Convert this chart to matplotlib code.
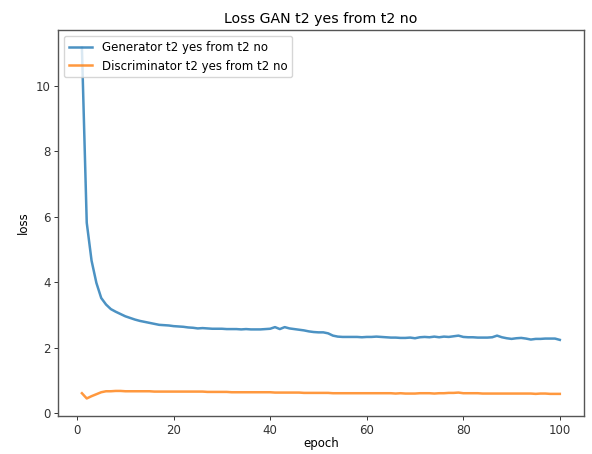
import matplotlib as mpl
mpl.use('Agg')
import matplotlib.pyplot as plt
import numpy as np

# epochs 1..100
epochs = np.arange(1, 101)

gen_loss = [11.17, 5.82, 4.66, 3.98, 3.52, 3.32, 3.18, 3.10, 3.03, 2.96,
            2.91, 2.86, 2.82, 2.79, 2.76, 2.73, 2.70, 2.69, 2.68, 2.66,
            2.65, 2.64, 2.62, 2.61, 2.59, 2.60, 2.59, 2.58, 2.58, 2.58,
            2.57, 2.57, 2.57, 2.56, 2.57, 2.56, 2.56, 2.56, 2.57, 2.58,
            2.63, 2.57, 2.63, 2.59, 2.57, 2.55, 2.53, 2.50, 2.48, 2.47,
            2.47, 2.44, 2.37, 2.34, 2.33, 2.33, 2.33, 2.33, 2.32, 2.33,
            2.33, 2.34, 2.33, 2.32, 2.31, 2.31, 2.30, 2.30, 2.31, 2.29,
            2.32, 2.33, 2.32, 2.34, 2.32, 2.34, 2.33, 2.35, 2.37, 2.33,
            2.32, 2.32, 2.31, 2.31, 2.31, 2.32, 2.37, 2.32, 2.29, 2.27,
            2.29, 2.30, 2.28, 2.25, 2.27, 2.27, 2.28, 2.28, 2.28, 2.24]

disc_loss = [0.61, 0.45, 0.52, 0.58, 0.64, 0.67, 0.67, 0.68, 0.68, 0.67,
             0.67, 0.67, 0.67, 0.67, 0.67, 0.66, 0.66, 0.66, 0.66, 0.66,
             0.66, 0.66, 0.66, 0.66, 0.66, 0.66, 0.65, 0.65, 0.65, 0.65,
             0.65, 0.64, 0.64, 0.64, 0.64, 0.64, 0.64, 0.64, 0.64, 0.64,
             0.63, 0.63, 0.63, 0.63, 0.63, 0.63, 0.62, 0.62, 0.62, 0.62,
             0.62, 0.62, 0.61, 0.61, 0.61, 0.61, 0.61, 0.61, 0.61, 0.61,
             0.61, 0.61, 0.61, 0.61, 0.61, 0.60, 0.61, 0.60, 0.60, 0.60,
             0.61, 0.61, 0.61, 0.60, 0.61, 0.61, 0.62, 0.62, 0.63, 0.61,
             0.61, 0.61, 0.61, 0.60, 0.60, 0.60, 0.60, 0.60, 0.60, 0.60,
             0.60, 0.60, 0.60, 0.60, 0.59, 0.60, 0.60, 0.59, 0.59, 0.59]

# 原图大约按 82 dpi 渲染，这里用 100 dpi，所以字号和线宽都缩放
s = 0.85
mpl.rcParams['font.size'] = 10 * s
mpl.rcParams['font.family'] = ['DejaVu Sans']

fig = plt.figure(figsize=(5.92, 4.54), dpi=100)
ax = fig.add_axes([0.098, 0.0837, 0.888, 0.850])

ax.plot(epochs, gen_loss, lw=1.8, c='#1f77b4', alpha=0.8,
        label='Generator t2 yes from t2 no')
ax.plot(epochs, disc_loss, lw=1.8, c='#ff7f0e', alpha=0.8,
        label='Discriminator t2 yes from t2 no')

ax.set_title('Loss GAN t2 yes from t2 no', fontsize=12 * s, pad=5)
ax.set_xlabel('epoch', fontsize=10 * s, labelpad=0)
ax.set_ylabel('loss', fontsize=10 * s)
ax.set_xticks(range(0, 101, 20))
ax.set_yticks(range(0, 11, 2))
for sp in ax.spines.values():
    sp.set_linewidth(1.0)
    sp.set_color('#555555')
ax.tick_params(colors='#333333', width=0.7, length=3, pad=2.5)
ax.legend(loc='upper left', fontsize=10 * s)

fig.savefig('out.png', dpi=100)
